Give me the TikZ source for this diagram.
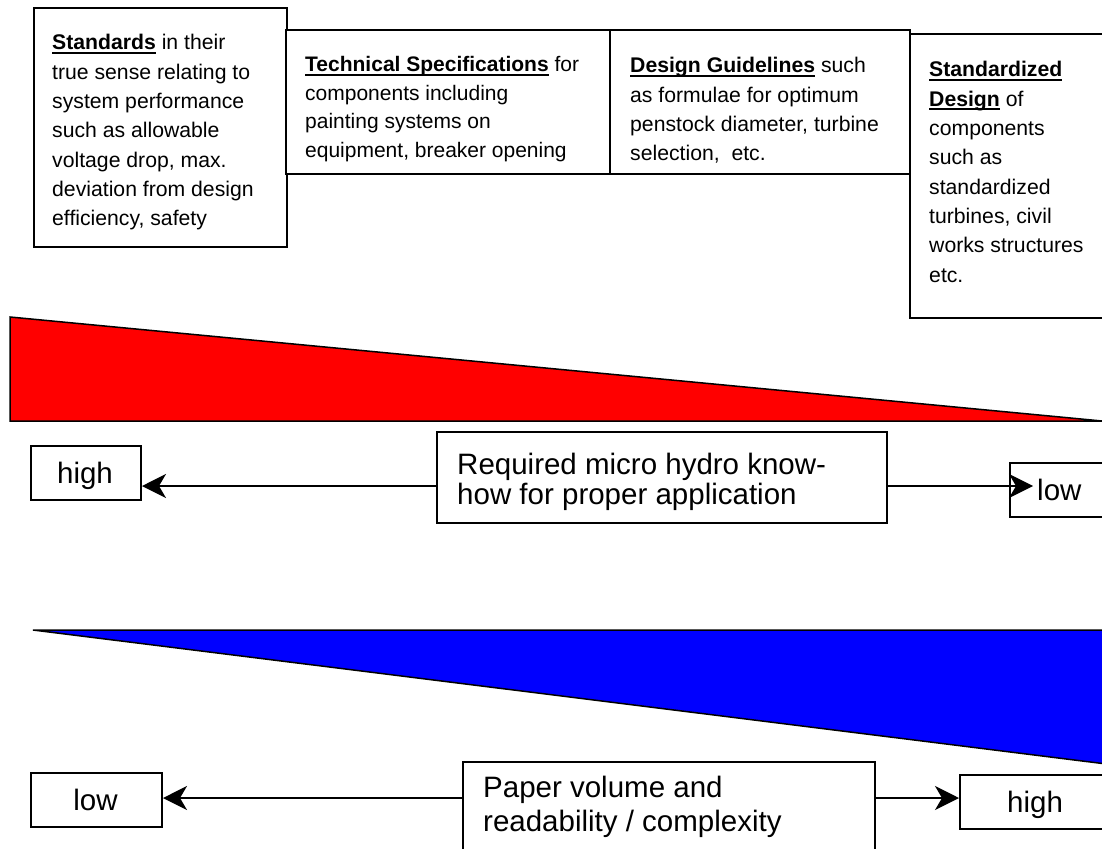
\documentclass[tikz,border=0pt]{standalone}
\usepackage{fontspec}
\setmainfont{Liberation Sans}
\usetikzlibrary{arrows.meta}
\newcommand\myul[1]{\leavevmode\setbox0\hbox{#1}\rlap{\rule[-4pt]{\wd0}{2pt}}\box0\relax}
\begin{document}
\begin{tikzpicture}[x=1pt,y=-1pt,
  bx/.style={draw,line width=2pt,fill=white,rectangle,inner sep=0pt,anchor=north west},
  arr/.style={line width=1.6pt,-{Stealth[length=24pt,width=24pt,inset=7pt]}},
  smalltxt/.style={inner sep=0pt,anchor=base west,font=\fontsize{21.2}{29.3}\selectfont},
  smallertxt/.style={inner sep=0pt,anchor=base west,font=\fontsize{21}{28.5}\selectfont},
  bigtxt/.style={inner sep=0pt,font=\fontsize{29.5}{30}\selectfont},
  bigtxtb/.style={inner sep=0pt,font=\fontsize{29.5}{34.5}\selectfont},
  tri/.style={draw,line width=1.5pt}]
\clip (0,0) rectangle (1102,848);
\fill[white] (0,0) rectangle (1102,848);

% top boxes
\node[bx,minimum width=253pt,minimum height=239pt] (b1) at (33,7) {};
\node[bx,minimum width=324pt,minimum height=144pt] (b2) at (285,29) {};
\node[bx,minimum width=300pt,minimum height=144pt] (b3) at (609,29) {};
\node[bx,minimum width=201pt,minimum height=284pt] (b4) at (909,33) {};

\node[smalltxt] (t1) at (52,50) {\parbox[t]{240pt}{\myul{\textbf{Standards}} in their\\
true sense relating to\\system performance\\such as allowable\\voltage drop, max.\\
deviation from design\\efficiency, safety}};
\begin{scope}
\clip (285,29) rectangle (609,163);
\node[smallertxt] (t2) at (305,72) {\parbox[t]{300pt}{\myul{\textbf{Technical Specifications}} for\\
components including\\painting systems on\\equipment, breaker opening}};
\end{scope}
\node[smalltxt] (t3) at (630,73) {\parbox[t]{280pt}{\myul{\textbf{Design Guidelines}} such\\
as formulae for optimum\\penstock diameter, turbine\\selection,\ \ etc.}};
\node[smalltxt] (t4) at (929,77) {\parbox[t]{180pt}{\myul{\textbf{Standardized}}\\
\myul{\textbf{Design}} of\\components\\such as\\standardized\\turbines, civil\\works structures\\etc.}};

% red wedge
\draw[tri,fill=red] (10,317) -- (1102,421) -- (10,421) -- cycle;

% first row
\node[bx,minimum width=110pt,minimum height=54pt] (hi1) at (30,445) {};
\node[bx,minimum width=450pt,minimum height=91pt] (c1) at (436,431) {};
\node[bx,minimum width=101pt,minimum height=54pt] (lo1) at (1009,462) {};
\node[bigtxt,anchor=base] (thi1) at (85,483) {high};
\node[bigtxt,anchor=base west] (tc1) at (457,474) {\parbox[t]{420pt}{Required micro hydro know-\\how for proper application}};
\node[bigtxt,anchor=base west] (tlo1) at (1037,500) {low};
\coordinate (a1) at (0,486);
\coordinate (lotip) at ([xshift=24pt]lo1.west);
\draw[arr] (c1.west |- a1) -- (hi1.east |- a1);
\draw[arr] (c1.east |- a1) -- (lotip |- a1);

% blue wedge
\draw[tri,fill=blue] (33,630) -- (1120,630) -- (1120,765.7) -- cycle;

% second row
\node[bx,minimum width=131pt,minimum height=54pt] (lo2) at (30,772) {};
\node[bx,minimum width=412pt,minimum height=100pt] (c2) at (462,761) {};
\node[bx,minimum width=151pt,minimum height=54pt] (hi2) at (959,774) {};
\node[bigtxt,anchor=base] (tlo2) at (95.5,810) {low};
\node[bigtxtb,anchor=base west] (tc2) at (483,797) {\parbox[t]{380pt}{Paper volume and\\readability / complexity}};
\node[bigtxt,anchor=base west] (thi2) at (1007,812) {high};
\coordinate (a2) at (0,798);
\draw[arr] (c2.west |- a2) -- (lo2.east |- a2);
\draw[arr] (c2.east |- a2) -- (hi2.west |- a2);
\end{tikzpicture}
\end{document}
